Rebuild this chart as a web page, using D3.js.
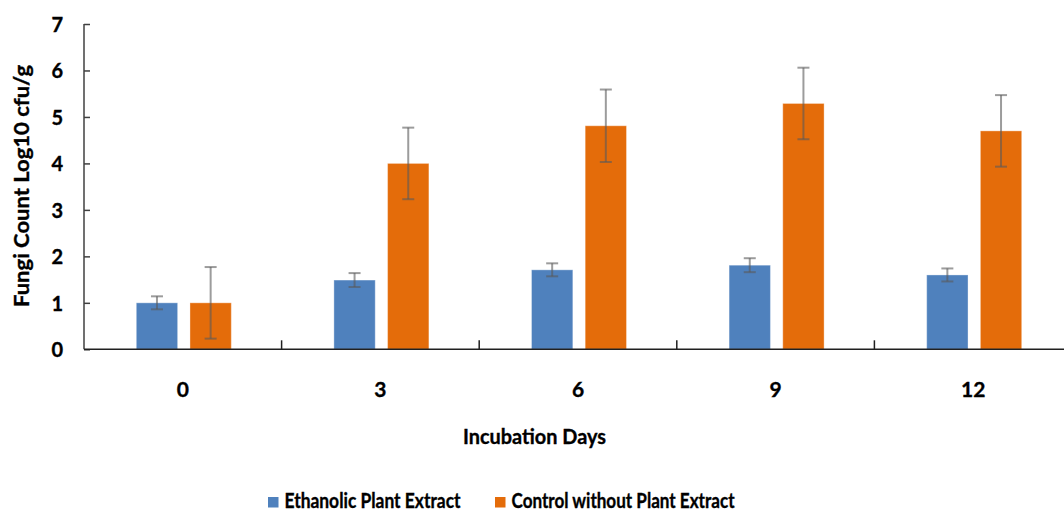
<!DOCTYPE html>
<html>
<head>
<meta charset="utf-8">
<script src="https://cdn.jsdelivr.net/npm/d3@7"></script>
<style>
  body { margin: 0; background: #fff; }
  text { font-family: Lato, "Open Sans", sans-serif; font-weight: bold; fill: #000; stroke: #000; stroke-width: 0.35px; }
</style>
</head>
<body>
<svg id="chart" width="1064" height="510"></svg>
<script>
var days = ["0", "3", "6", "9", "12"];
var seriesNames = ["Ethanolic Plant Extract", "Control without Plant Extract"];
var ethanolic = [1.0, 1.49, 1.71, 1.81, 1.6];
var ethanolicErr = [0.14, 0.15, 0.14, 0.15, 0.14];
var control = [1.0, 4.0, 4.81, 5.29, 4.7];
var controlErr = [0.77, 0.77, 0.78, 0.77, 0.77];
var yTicks = [0, 1, 2, 3, 4, 5, 6, 7];

var colors = ["#4f81bd", "#e46c0a"];

var svg = d3.select("#chart");

// build rows for drawing
var rows = [];
days.forEach(function (d, i) {
  rows.push({ day: d, s: seriesNames[0], v: ethanolic[i], e: ethanolicErr[i] });
  rows.push({ day: d, s: seriesNames[1], v: control[i], e: controlErr[i] });
});

var x = d3.scaleBand().domain(days).range([84, 1072]).paddingInner(0).paddingOuter(0);
var x1 = d3.scaleBand().domain(seriesNames).range([-46.5, 48.5]).paddingInner(0.23);
var y = d3.scaleLinear().domain([0, 7]).range([349.3, 24]);
var color = d3.scaleOrdinal().domain(seriesNames).range(colors);

function cx(d) { return x(d.day) + x.bandwidth() / 2; }

// bars
svg.append("g")
  .selectAll("rect")
  .data(rows)
  .enter()
  .append("rect")
  .attr("x", d => cx(d) + x1(d.s))
  .attr("y", d => y(d.v))
  .attr("width", x1.bandwidth())
  .attr("height", d => y(0) - y(d.v))
  .attr("fill", d => color(d.s))
  .attr("stroke", "#ffffff")
  .attr("stroke-opacity", 0.35)
  .attr("stroke-width", 1);

// error bars
var err = svg.append("g")
  .attr("stroke", "#5a5a5a")
  .attr("stroke-opacity", 0.6)
  .attr("stroke-width", 2)
  .selectAll("g")
  .data(rows)
  .enter()
  .append("g")
  .attr("transform", d => "translate(" + (cx(d) + x1(d.s) + x1.bandwidth() / 2) + ",0)");

err.append("line")
  .attr("y1", d => y(d.v + d.e))
  .attr("y2", d => y(d.v - d.e));
err.append("line")
  .attr("x1", -6).attr("x2", 6)
  .attr("y1", d => y(d.v + d.e)).attr("y2", d => y(d.v + d.e));
err.append("line")
  .attr("x1", -6).attr("x2", 6)
  .attr("y1", d => y(d.v - d.e)).attr("y2", d => y(d.v - d.e));

// y axis
var yAxis = svg.append("g")
  .attr("transform", "translate(84,0)")
  .call(d3.axisRight(y).tickValues(yTicks).tickSize(6).tickFormat(d3.format("d")));
yAxis.select(".domain").attr("stroke", "#404040").attr("stroke-width", 1.5)
  .attr("d", "M0," + y(7) + "V" + y(0));
yAxis.selectAll(".tick line").attr("stroke", "#404040").attr("stroke-width", 1.5);
yAxis.selectAll(".tick text")
  .attr("x", -21)
  .attr("dy", "0.36em")
  .attr("text-anchor", "end")
  .attr("fill", "#000")
  .style("font-size", "20px");

// x axis
var xAxis = svg.append("g")
  .attr("transform", "translate(0," + y(0) + ")");
xAxis.append("line")
  .attr("x1", 84).attr("x2", 1072)
  .attr("stroke", "#202020").attr("stroke-width", 1.5);
xAxis.selectAll("line.tk")
  .data(days.slice(1))
  .enter()
  .append("line")
  .attr("class", "tk")
  .attr("x1", d => x(d)).attr("x2", d => x(d))
  .attr("y1", 0).attr("y2", -9)
  .attr("stroke", "#202020").attr("stroke-width", 1.5);
xAxis.selectAll("text")
  .data(days)
  .enter()
  .append("text")
  .attr("x", d => x(d) + x.bandwidth() / 2)
  .attr("y", 47.5)
  .attr("text-anchor", "middle")
  .style("font-size", "21px")
  .text(d => d);

// axis titles
svg.append("text")
  .attr("transform", "translate(28.5,186) rotate(-90)")
  .attr("text-anchor", "middle")
  .attr("textLength", 242)
  .attr("lengthAdjust", "spacingAndGlyphs")
  .style("font-size", "21px")
  .text("Fungi Count Log10 cfu/g");

svg.append("text")
  .attr("x", 534.5)
  .attr("y", 444)
  .attr("text-anchor", "middle")
  .attr("textLength", 143)
  .attr("lengthAdjust", "spacingAndGlyphs")
  .style("font-size", "20.5px")
  .text("Incubation Days");

// legend
var legendX = [268, 495];
var legendW = [176, 223];
var legend = svg.append("g")
  .selectAll("g")
  .data(seriesNames)
  .enter()
  .append("g")
  .attr("transform", (d, i) => "translate(" + legendX[i] + ",0)");
legend.append("rect")
  .attr("x", 0).attr("y", 497)
  .attr("width", 10.5).attr("height", 10.5)
  .attr("fill", d => color(d));
legend.append("text")
  .attr("x", 16.5)
  .attr("y", 507.5)
  .attr("textLength", (d, i) => legendW[i])
  .attr("lengthAdjust", "spacingAndGlyphs")
  .style("font-size", "20px")
  .text(d => d);
</script>
</body>
</html>
